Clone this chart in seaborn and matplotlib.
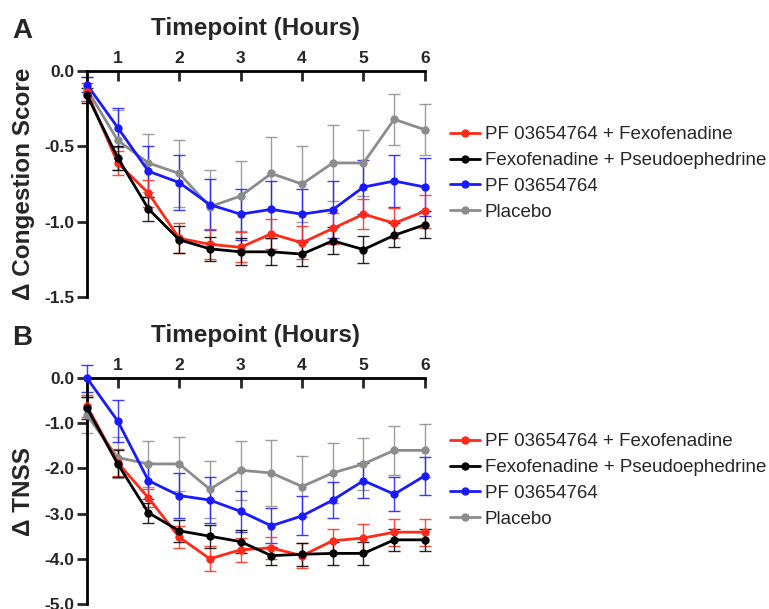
import numpy as np
import pandas as pd
import matplotlib
matplotlib.use("Agg")
import matplotlib.pyplot as plt
from matplotlib.lines import Line2D
import seaborn as sns

sns.set_style("white")
plt.rcParams['font.family'] = ['Liberation Sans', 'DejaVu Sans']

timepoints = [0.5, 1, 1.5, 2, 2.5, 3, 3.5, 4, 4.5, 5, 5.5, 6]
treatments = ["PF 03654764 + Fexofenadine", "Fexofenadine + Pseudoephedrine",
              "PF 03654764", "Placebo"]
colors = ["#ff2a1a", "#000000", "#1a1aff", "#8c8c8c"]

# Panel A: change in congestion score (mean, SEM)
congestion_red = [-0.14, -0.61, -0.81, -1.11, -1.15, -1.17, -1.08, -1.14, -1.045, -0.95, -1.01, -0.93]
congestion_black = [-0.16, -0.575, -0.915, -1.12, -1.18, -1.20, -1.20, -1.215, -1.127, -1.185, -1.09, -1.02]
congestion_blue = [-0.09, -0.375, -0.665, -0.74, -0.887, -0.95, -0.918, -0.95, -0.92, -0.77, -0.73, -0.77]
congestion_gray = [-0.12, -0.46, -0.61, -0.68, -0.90, -0.83, -0.68, -0.75, -0.61, -0.61, -0.32, -0.39]
congestion_red_err = [0.06, 0.08, 0.09, 0.10, 0.10, 0.10, 0.10, 0.11, 0.10, 0.10, 0.10, 0.11]
congestion_black_err = [0.05, 0.08, 0.08, 0.09, 0.08, 0.09, 0.09, 0.08, 0.09, 0.09, 0.08, 0.09]
congestion_blue_err = [0.05, 0.13, 0.17, 0.18, 0.17, 0.17, 0.19, 0.17, 0.19, 0.18, 0.17, 0.19]
congestion_gray_err = [0.08, 0.20, 0.19, 0.22, 0.24, 0.23, 0.24, 0.25, 0.25, 0.22, 0.17, 0.17]

# Panel B: change in TNSS (mean, SEM)
tnss_red = [-0.62, -1.87, -2.65, -3.52, -4.00, -3.80, -3.76, -3.93, -3.60, -3.54, -3.41, -3.41]
tnss_black = [-0.66, -1.90, -2.98, -3.38, -3.50, -3.62, -3.93, -3.90, -3.88, -3.88, -3.58, -3.58]
tnss_blue = [0.0, -0.95, -2.27, -2.60, -2.70, -2.95, -3.27, -3.05, -2.70, -2.27, -2.57, -2.16]
tnss_gray = [-0.82, -1.76, -1.90, -1.90, -2.46, -2.04, -2.10, -2.40, -2.10, -1.90, -1.60, -1.60]
tnss_red_err = [0.25, 0.30, 0.20, 0.25, 0.28, 0.26, 0.25, 0.27, 0.27, 0.30, 0.30, 0.30]
tnss_black_err = [0.25, 0.30, 0.22, 0.25, 0.25, 0.25, 0.20, 0.25, 0.25, 0.25, 0.25, 0.25]
tnss_blue_err = [0.30, 0.47, 0.40, 0.49, 0.50, 0.46, 0.39, 0.43, 0.40, 0.38, 0.38, 0.42]
tnss_gray_err = [0.40, 0.45, 0.51, 0.59, 0.63, 0.65, 0.74, 0.68, 0.66, 0.57, 0.54, 0.59]

panels = [
    dict(letter="A", ylabel="\u0394 Congestion Score", ylim=(-1.5, 0.0),
         yticks=[0.0, -0.5, -1.0, -1.5],
         means=[congestion_red, congestion_black, congestion_blue, congestion_gray],
         errs=[congestion_red_err, congestion_black_err, congestion_blue_err, congestion_gray_err]),
    dict(letter="B", ylabel="\u0394 TNSS", ylim=(-5.0, 0.0),
         yticks=[0.0, -1.0, -2.0, -3.0, -4.0, -5.0],
         means=[tnss_red, tnss_black, tnss_blue, tnss_gray],
         errs=[tnss_red_err, tnss_black_err, tnss_blue_err, tnss_gray_err]),
]

fig = plt.figure(figsize=(7.69, 6.09), dpi=100)
axes = [fig.add_axes([0.1131, 0.5123, 0.4395, 0.371]),
        fig.add_axes([0.1131, 0.0082, 0.4395, 0.371])]

plot_order = [3, 2, 0, 1]
for ax, p in zip(axes, panels):
    rows = []
    for i, t in enumerate(treatments):
        for x, y, e in zip(timepoints, p["means"][i], p["errs"][i]):
            rows.append(dict(Timepoint=x, Value=y, Err=e, Treatment=t))
    df = pd.DataFrame(rows)
    hue_order = [treatments[i] for i in plot_order]
    pal = {treatments[i]: colors[i] for i in range(4)}
    for t in hue_order:
        sub = df[df.Treatment == t]
        ax.errorbar(sub.Timepoint, sub.Value, yerr=sub.Err, fmt="none",
                    ecolor=pal[t], elinewidth=1.0, capsize=4, capthick=1.0,
                    alpha=0.85, zorder=2, clip_on=False)
    sns.lineplot(data=df, x="Timepoint", y="Value", hue="Treatment",
                 hue_order=hue_order, palette=pal, marker="o", markersize=6,
                 markeredgewidth=0, linewidth=2, errorbar=None, legend=False,
                 ax=ax, zorder=3, clip_on=False)
    ax.set_xlim(0.5, 6)
    ax.set_ylim(*p["ylim"])
    ax.set_xticks([1, 2, 3, 4, 5, 6])
    ax.set_yticks(p["yticks"])
    ax.set_yticklabels([f"{v:.1f}" for v in p["yticks"]])
    ax.xaxis.tick_top()
    ax.xaxis.set_label_position("top")
    ax.set_xlabel("Timepoint (Hours)", fontsize=17.5, fontweight="bold", labelpad=11)
    ax.set_ylabel(p["ylabel"], fontsize=17.5, fontweight="bold", labelpad=7)
    for s in ["right", "bottom"]:
        ax.spines[s].set_visible(False)
    for s in ["top", "left"]:
        ax.spines[s].set_linewidth(2)
        ax.spines[s].set_color("black")
    ax.tick_params(axis="x", direction="in", length=7, width=2, labelsize=12.5,
                   pad=4, top=True, bottom=False)
    ax.tick_params(axis="y", direction="out", length=7, width=2, labelsize=12.5,
                   pad=2, left=True)
    for lbl in ax.get_xticklabels() + ax.get_yticklabels():
        lbl.set_fontweight("bold")
    ax.text(-0.222, 1.148, p["letter"], transform=ax.transAxes, fontsize=20,
            fontweight="bold", va="baseline", ha="left")
    handles = [Line2D([0], [0], color=colors[i], lw=2, marker="o", markersize=5)
               for i in range(4)]
    ax.legend(handles, treatments, loc="upper left", bbox_to_anchor=(1.052, 0.79),
              frameon=False, fontsize=13.5, handlelength=1.6, handletextpad=0.25,
              labelspacing=0.47, borderaxespad=0)

fig.savefig("out.png", dpi=100)
